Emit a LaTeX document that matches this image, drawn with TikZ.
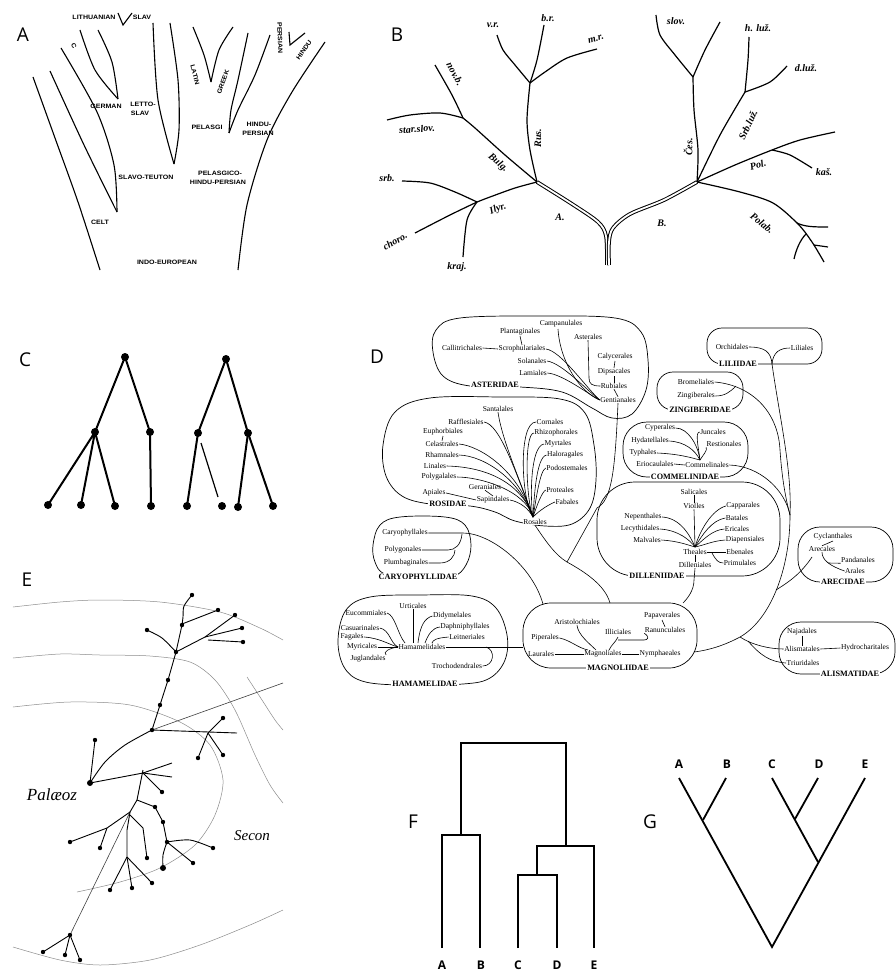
\documentclass[tikz,border=0pt]{standalone}
\usepackage{fontspec}
\setmainfont{Liberation Serif}
\newfontfamily\panelfont{Open Sans}
\newfontfamily\capfont{Liberation Sans}
\tikzset{
 plab/.style={font=\panelfont\fontsize{19}{19}\selectfont, inner sep=0pt},
 alab/.style={font=\capfont\bfseries\fontsize{6.3}{6.5}\selectfont, inner sep=0.3pt, xscale=1.12},
 blab/.style={font=\bfseries\itshape\fontsize{10}{10}\selectfont, inner sep=0.3pt},
 dl/.style={font=\fontsize{7.5}{7.5}\selectfont, inner sep=0.4pt},
 dsub/.style={font=\bfseries\fontsize{8.2}{8.2}\selectfont, inner sep=1pt, fill=white},
 blob/.style={line width=0.7pt},
 dline/.style={line width=0.6pt},
 aline/.style={line width=1.1pt},
 bline/.style={line width=1.2pt},
 eline/.style={line width=0.9pt},
 earc/.style={black!45, line width=0.5pt},
 fline/.style={line width=2.4pt, line join=miter},
 gline/.style={line width=1.8pt},
 tiplab/.style={font=\panelfont\bfseries\fontsize{12}{12}\selectfont, inner sep=0pt},
 hand/.style={font=\itshape\fontsize{17}{17}\selectfont, inner sep=0pt},
}
\begin{document}
\begin{tikzpicture}[x=1pt,y=-1pt]
\path[use as bounding box, fill=white] (0,0) rectangle (896,971);

% ---------- panel letters
\node[plab] (labA) at (23,35) {A};
\node[plab] (labB) at (397,35) {B};
\node[plab] (labC) at (25,360) {C};
\node[plab] (labD) at (377,357) {D};
\node[plab] (labE) at (27,580) {E};
\node[plab] (labF) at (413,822) {F};
\node[plab] (labG) at (650,822) {G};

% ---------- panel A
\draw[aline] plot[smooth] coordinates {(33,77) (55,138) (78,202) (100,270)};
\draw[aline] plot[smooth] coordinates {(50,71) (84,145) (117,212)};
\draw[aline] plot[smooth] coordinates {(61,48) (97,112) (114,165) (117,212)};
\draw[aline] plot[smooth] coordinates {(80,30) (95,70) (118,99)};
\draw[aline] plot[smooth] coordinates {(98,30) (112,62) (118,99)};
\draw[aline] plot[smooth] coordinates {(153,23) (158,100) (174,164)};
\draw[aline] plot[smooth] coordinates {(170,23) (178,80) (179,130) (174,164)};
\draw[aline] plot[smooth] coordinates {(193,27) (204,55) (211,82)};
\draw[aline] plot[smooth] coordinates {(233,27) (219,50) (211,82)};
\draw[aline] plot[smooth] coordinates {(248,33) (238,80) (231,110) (229,133)};
\draw[aline] plot[smooth] coordinates {(270,35) (255,75) (238,110) (229,133)};
\draw[aline] (289,32) -- (290,45) -- (305,33);
\draw[aline] (118,13) -- (123,25) -- (132,13);
\draw[aline] plot[smooth] coordinates {(325,42) (292,92) (267,140) (247,205) (238,270)};
\node[alab] (aLit) at (94,17) {LITHUANIAN};
\node[alab] (aSlav) at (142,17) {SLAV};
\node[rotate=-65, alab] (aC) at (74,46) {C};
\node[alab] (aGer) at (106,106) {GERMAN};
\node[alab] (aLet) at (143,104) {LETTO-};
\node[alab] (aLet2) at (140,113) {SLAV};
\node[rotate=-75, alab] (aLat) at (195,75) {LATIN};
\node[rotate=70, alab] (aGre) at (223,82) {GREEK};
\node[alab] (aPel) at (207,127) {PELASGI};
\node[alab] (aHP) at (259,124) {HINDU-};
\node[alab] (aHP2) at (258,133) {PERSIAN};
\node[rotate=-88, alab] (aPer) at (280,38) {PERSIAN};
\node[rotate=55, alab] (aHin) at (304,50) {HINDU};
\node[alab] (aST) at (146,177) {SLAVO-TEUTON};
\node[alab] (aPHP) at (220,173) {PELASGICO-};
\node[alab] (aPHP2) at (218,182) {HINDU-PERSIAN};
\node[alab] (aCelt) at (100,222) {CELT};
\node[alab] (aIE) at (167,262) {INDO-EUROPEAN};

% ---------- panel B
\draw[line width=1pt, double distance=1.8pt] plot[smooth] coordinates {(537,182) (572,204) (598,222) (606,236) (607,265)};
\draw[line width=1pt, double distance=1.8pt] plot[smooth] coordinates {(697,182) (664,200) (630,214) (613,228) (609,242) (609,265)};
\draw[bline] plot[smooth] coordinates {(537,182) (530,150) (527,120) (530,83)};
\draw[bline] plot[smooth] coordinates {(530,83) (515,65) (503,50) (497,35)};
\draw[bline] plot[smooth] coordinates {(530,83) (537,60) (544,25)};
\draw[bline] plot[smooth] coordinates {(530,83) (545,72) (567,58) (597,49)};
\draw[bline] plot[smooth] coordinates {(537,182) (505,155) (475,128) (463,118)};
\draw[bline] plot[smooth] coordinates {(463,118) (452,95) (435,65)};
\draw[bline] plot[smooth] coordinates {(463,118) (440,113) (410,115) (387,120)};
\draw[bline] plot[smooth] coordinates {(537,182) (515,188) (490,197) (477,202)};
\draw[bline] plot[smooth] coordinates {(477,202) (455,192) (430,183) (402,181)};
\draw[bline] plot[smooth] coordinates {(477,202) (450,215) (415,233)};
\draw[bline] plot[smooth] coordinates {(477,202) (467,220) (463,257)};
\draw[bline] plot[smooth] coordinates {(697,182) (698,150) (694,110) (693,77)};
\draw[bline] plot[smooth] coordinates {(693,77) (675,55) (660,35) (656,15)};
\draw[bline] plot[smooth] coordinates {(693,77) (705,50) (720,22)};
\draw[bline] plot[smooth] coordinates {(697,182) (720,135) (745,92)};
\draw[bline] plot[smooth] coordinates {(745,92) (748,60) (749,37)};
\draw[bline] plot[smooth] coordinates {(745,92) (770,82) (787,66)};
\draw[bline] plot[smooth] coordinates {(697,182) (735,165) (772,150) (800,140) (835,132)};
\draw[bline] plot[smooth] coordinates {(772,150) (790,155) (812,168)};
\draw[bline] plot[smooth] coordinates {(697,182) (740,192) (773,203) (798,224) (812,242) (824,262)};
\draw[bline] (797,223) .. controls (805,227) and (815,227) .. (828,227);
\draw[bline] (806,234) .. controls (800,240) and (796,250) .. (794,259);
\draw[bline] (814,245) -- (828,247);
\node[blab] (bvr) at (493,25) {v.r.};
\node[blab] (bbr) at (548,18) {b.r.};
\node[rotate=15, blab] (bmr) at (596,39) {m.r.};
\node[rotate=-62, blab] (bnov) at (455,74) {nov.b.};
\node[rotate=5, blab] (bstar) at (417,129) {star.slov.};
\node[rotate=90, blab] (brus) at (538,138) {Rus.};
\node[rotate=-40, blab] (bbul) at (498,163) {Bulg.};
\node[blab] (bsrb) at (387,178) {srb.};
\node[rotate=20, blab] (bily) at (498,209) {Ilyr.};
\node[rotate=30, blab] (bcho) at (395,241) {choro.};
\node[blab] (bkra) at (457,267) {kraj.};
\node[blab] (bA) at (560,217) {A.};
\node[blab] (bslov) at (676,21) {slov.};
\node[blab] (bhl) at (758,28) {h. luž.};
\node[blab] (bdl) at (806,68) {d.luž.};
\node[rotate=65, blab] (bsl) at (748,125) {Srb.luž.};
\node[rotate=90, blab] (bces) at (688,147) {Čes.};
\node[rotate=15, blab] (bpol) at (758,165) {Pol.};
\node[blab] (bkas) at (824,172) {kaš.};
\node[rotate=-38, blab] (bpolab) at (762,223) {Polab.};
\node[blab] (bB) at (662,223) {B.};

% ---------- panel C
\foreach \p/\q in {125/357,95/432,150/432,48/505,81/505,115/506,151/506,226/359,198/433,248/433,187/506,222/506,238/507,273/506}
  \fill (\p,\q) circle[radius=4pt];
\draw[line width=2pt] (95,432) -- (125,357) -- (150,432) -- (151,506);
\draw[line width=2pt] (48,505) -- (95,432) -- (81,505);
\draw[line width=2pt] (95,432) -- (115,506);
\draw[line width=2pt] (198,433) -- (226,359) -- (248,433) -- (273,506);
\draw[line width=2pt] (198,433) -- (187,506);
\draw[line width=1.2pt] (201,443) -- (218,497);
\draw[line width=2pt] (248,433) -- (238,507);

% ---------- panel D : blobs
\draw[blob] plot[smooth cycle, tension=0.6] coordinates {(436,330) (460,318) (540,316) (615,318) (641,332) (648,360) (646,390) (632,414) (612,418) (592,408) (562,392) (520,387) (470,386) (443,376) (433,352)};
\draw[blob] plot[smooth cycle, tension=0.6] coordinates {(383,445) (395,412) (430,398) (500,397) (560,399) (585,413) (594,445) (596,480) (590,508) (572,524) (545,526) (515,521) (495,512) (470,506) (430,504) (402,496) (386,476)};
\draw[blob] plot[smooth cycle, tension=0.6] coordinates {(373,545) (380,525) (400,517) (445,517) (465,525) (471,545) (466,565) (452,577) (418,579) (385,574) (375,562)};
\draw[blob] plot[smooth cycle, tension=0.6] coordinates {(338,640) (346,610) (370,597) (420,595) (472,596) (496,608) (507,635) (505,660) (490,678) (463,684) (400,685) (362,681) (344,667)};
\draw[blob, rounded corners=28pt] (523,603) rectangle (697,668);
\draw[blob, rounded corners=15pt] (707,328) rectangle (822,364);
\draw[blob, rounded corners=16pt] (657,372) rectangle (743,410);
\draw[blob, rounded corners=24pt] (623,422) rectangle (748,477);
\draw[blob, rounded corners=38pt] (597,482) rectangle (780,576);
\draw[blob, rounded corners=22pt] (798,527) rectangle (893,582);
\draw[blob, rounded corners=22pt] (779,622) rectangle (895,674);

% Asteridae
\node[dl] (camp) at (561,324) {Campanulales};
\node[dl] (plant) at (520,332) {Plantaginales};
\node[dl] (aster) at (588,337) {Asterales};
\node[dl] (callit) at (462,348) {Callitrichales};
\node[dl] (scroph) at (522,349) {Scrophulariales};
\node[dl] (calyc) at (615,357) {Calycerales};
\node[dl] (solan) at (532,361) {Solanales};
\node[dl] (dips) at (614,372) {Dipsacales};
\node[dl] (lami) at (533,373) {Lamiales};
\node[dl] (rubi) at (614,386) {Rubiales};
\node[dl] (gent) at (618,400) {Gentianales};
\node[dsub] (astsub) at (495,385) {ASTERIDAE};
\draw[dline] (callit.east) -- (scroph.west);
\draw[dline] (plant.south) -- (scroph.north);
\draw[dline] (scroph.east) .. controls +(15,2) and +(-15,-14) .. (gent.west);
\draw[dline] (solan.east) .. controls +(15,2) and +(-12,-9) .. (gent.west);
\draw[dline] (lami.east) .. controls +(15,1) and +(-10,-5) .. (gent.west);
\draw[dline] (558,329) .. controls (560,362) and (580,392) .. (gent.west);
\draw[dline] (aster.south) -- (589,378) .. controls (589,384) and (592,386) .. (rubi.west);
\draw[dline] (calyc.south) -- (dips.north);
\draw[dline] (dips.south) -- (rubi.north);
\draw[dline] (rubi.south) -- (gent.north);

% Rosidae
\node[dl] (sant) at (498,409) {Santalales};
\node[dl] (raff) at (466,422) {Rafflesiales};
\node[dl] (corn) at (550,422) {Cornales};
\node[dl] (euph) at (443,432) {Euphorbiales};
\node[dl] (rhiz) at (556,433) {Rhizophorales};
\node[dl] (cela) at (442,444) {Celastrales};
\node[dl] (myrt) at (558,444) {Myrtales};
\node[dl] (rham) at (442,455) {Rhamnales};
\node[dl] (halo) at (565,455) {Haloragales};
\node[dl] (lina) at (435,466) {Linales};
\node[dl] (podo) at (567,468) {Podostemales};
\node[dl] (polyg) at (439,477) {Polygalales};
\node[dl] (gera) at (485,487) {Geraniales};
\node[dl] (prot) at (560,490) {Proteales};
\node[dl] (apia) at (434,493) {Apiales};
\node[dl] (sapi) at (493,500) {Sapindales};
\node[dl] (faba) at (567,502) {Fabales};
\node[dsub] (rossub) at (448,504) {ROSIDAE};
\node[dl, fill=white] (rosa) at (535,522) {Rosales};
\coordinate (rhub) at (533,517);
\draw[dline] (raff.east) .. controls (500,425) and (515,470) .. (rhub);
\draw[dline] (sant.south) .. controls (502,440) and (520,480) .. (rhub);
\draw[dline] (cela.east) .. controls (480,446) and (518,470) .. (rhub);
\draw[dline] (rham.east) .. controls (485,456) and (520,480) .. (rhub);
\draw[dline] (lina.east) .. controls (490,467) and (522,485) .. (rhub);
\draw[dline] (polyg.east) .. controls (480,477) and (525,490) .. (rhub);
\draw[dline] (euph.south) -- (cela.north);
\draw[dline] (gera.south) -- (sapi.north);
\draw[dline] (apia.east) -- (sapi.west);
\draw[dline] (sapi.east) .. controls (520,502) and (528,508) .. (rhub);
\draw[dline] (corn.west) .. controls (518,422) and (521,500) .. (rhub);
\draw[dline] (rhiz.west) .. controls (524,434) and (526,500) .. (rhub);
\draw[dline] (myrt.west) .. controls (530,446) and (530,500) .. (rhub);
\draw[dline] (halo.west) .. controls (536,457) and (534,500) .. (rhub);
\draw[dline] (podo.west) .. controls (540,470) and (536,500) .. (rhub);
\draw[dline] (prot.west) .. controls (542,492) and (537,505) .. (rhub);
\draw[dline] (faba.west) .. controls (548,505) and (540,510) .. (rhub);

% Caryophyllidae
\node[dl] (caryo) at (405,533) {Caryophyllales};
\node[dl] (polygo) at (403,550) {Polygonales};
\node[dl] (plumb) at (406,563) {Plumbaginales};
\node[dsub] (carsub) at (418,577) {CARYOPHYLLIDAE};
\draw[dline] (caryo.east) -- (463,533) .. controls (490,533) and (532,565) .. (543,604);
\draw[dline] (polygo.east) -- (448,550) .. controls (455,550) and (461,545) .. (462,534);
\draw[dline] (plumb.east) -- (440,563) .. controls (450,563) and (455,556) .. (455,550);

% Hamamelidae
\node[dl] (eucom) at (366,613) {Eucommiales};
\node[dl] (urti) at (413,606) {Urticales};
\node[dl] (didy) at (452,616) {Didymelales};
\node[dl] (daph) at (465,627) {Daphniphyllales};
\node[dl] (casu) at (360,628) {Casuarinales};
\node[dl] (leit) at (467,637) {Leitneriales};
\node[dl] (faga) at (352,637) {Fagales};
\node[dl] (hama) at (422,647) {Hamamelidales};
\node[dl] (myri) at (362,647) {Myricales};
\node[dl] (jugl) at (368,659) {Juglandales};
\node[dl] (troch) at (457,666) {Trochodendrales};
\node[dsub] (hamsub) at (425,684) {HAMAMELIDAE};
\draw[dline] (eucom.east) .. controls (395,615) and (398,635) .. (405,643);
\draw[dline] (urti.south) -- (413,643);
\draw[dline] (didy.west) .. controls (425,618) and (420,625) .. (418,643);
\draw[dline] (daph.west) .. controls (432,628) and (428,635) .. (425,643);
\draw[dline] (leit.west) .. controls (436,638) and (433,640) .. (432,643);
\draw[dline] (casu.east) .. controls (390,630) and (390,643) .. (hama.west);
\draw[dline] (faga.east) .. controls (380,638) and (390,645) .. (hama.west);
\draw[dline] (myri.east) -- (hama.west);
\draw[dline] (jugl.north east) .. controls (382,652) and (390,648) .. (hama.west);
\draw[dline] (troch.east) .. controls (494,666) and (496,650) .. (486,647);
\coordinate (magW) at (523,647);
\draw[dline] (hama.east) -- (magW);

% Magnoliidae
\node[dl] (aris) at (577,622) {Aristolochiales};
\node[dl] (illi) at (618,632) {Illiciales};
\node[dl] (pipe) at (545,638) {Piperales};
\node[dl] (papa) at (662,616) {Papaverales};
\node[dl] (ranu) at (665,630) {Ranunculales};
\node[dl] (laur) at (541,654) {Laurales};
\node[dl] (magn) at (603,654) {Magnoliales};
\node[dl] (nymp) at (660,654) {Nymphaeales};
\node[dsub] (magsub) at (618,668) {MAGNOLIIDAE};
\draw[dline] (laur.east) -- (magn.west);
\draw[dline] (magn.east) -- (nymp.west);
\draw[dline] (pipe.east) .. controls (570,640) and (578,648) .. (588,650);
\draw[dline] (aris.south) .. controls (578,635) and (590,644) .. (596,650);
\draw[dline] (609,650) .. controls (612,644) and (615,643) .. (618,637);
\draw[dline] (618,640) -- (644,640) .. controls (648,640) and (650,637) .. (ranu.south west);
\draw[dline] (papa.south) -- (ranu.north);

% Liliidae
\node[dl] (orch) at (732,347) {Orchidales};
\node[dl] (lili) at (802,348) {Liliales};
\node[dsub] (lilsub) at (738,364) {LILIIDAE};
\coordinate (lilhub) at (772,364);
\draw[dline] (orch.east) .. controls (765,347) and (771,352) .. (lilhub);
\draw[dline] (lili.west) .. controls (780,348) and (773,352) .. (lilhub);

% Zingiberidae
\node[dl] (brom) at (696,382) {Bromeliales};
\node[dl] (zing) at (696,396) {Zingiberales};
\node[dsub] (zinsub) at (700,410) {ZINGIBERIDAE};

% Commelinidae
\node[dl] (cype) at (660,428) {Cyperales};
\node[dl] (junc) at (713,432) {Juncales};
\node[dl] (hyda) at (650,441) {Hydatellales};
\node[dl] (rest) at (724,444) {Restionales};
\node[dl] (typh) at (643,453) {Typhales};
\node[dl] (erio) at (655,464) {Eriocaulales};
\node[dl] (comm) at (707,465) {Commelinales};
\node[dsub] (comsub) at (685,477) {COMMELINIDAE};
\coordinate (chub) at (700,460);
\draw[dline] (cype.east) .. controls (688,428) and (698,445) .. (chub);
\draw[dline] (junc.west) .. controls (695,432) and (698,445) .. (chub);
\draw[dline] (hyda.east) .. controls (685,442) and (695,450) .. (chub);
\draw[dline] (rest.south west) .. controls (708,450) and (703,455) .. (chub);
\draw[dline] (typh.east) .. controls (680,454) and (692,458) .. (chub);
\draw[dline] (erio.east) -- (comm.west);

% Dilleniidae
\node[dl] (sali) at (694,492) {Salicales};
\node[dl] (viol) at (694,506) {Violles};
\node[dl] (capp) at (743,506) {Capparales};
\node[dl] (nepe) at (643,517) {Nepenthales};
\node[dl] (bata) at (737,518) {Batales};
\node[dl] (lecy) at (640,529) {Lecythidales};
\node[dl] (eric) at (737,529) {Ericales};
\node[dl] (malv) at (647,540) {Malvales};
\node[dl] (diap) at (745,540) {Diapensiales};
\node[dl] (thea) at (695,552) {Theales};
\node[dl] (eben) at (740,552) {Ebenales};
\node[dl] (dill) at (695,565) {Dilleniales};
\node[dl] (prim) at (740,563) {Primulales};
\node[dsub] (dilsub) at (657,576) {DILLENIIDAE};
\coordinate (dhub) at (695,547);
\draw[dline] (sali.south) -- (viol.north);
\draw[dline] (viol.south) -- (dhub);
\draw[dline] (capp.west) .. controls (712,510) and (700,530) .. (dhub);
\draw[dline] (bata.west) .. controls (712,520) and (702,535) .. (dhub);
\draw[dline] (eric.west) .. controls (712,530) and (703,540) .. (dhub);
\draw[dline] (diap.west) .. controls (712,541) and (705,545) .. (dhub);
\draw[dline] (nepe.east) .. controls (680,518) and (690,535) .. (dhub);
\draw[dline] (lecy.east) .. controls (678,530) and (690,540) .. (dhub);
\draw[dline] (malv.east) .. controls (678,541) and (688,545) .. (dhub);
\draw[dline] (thea.east) -- (eben.west);
\draw[dline] (712,553) .. controls (716,560) and (718,563) .. (prim.west);
\draw[dline] (thea.south) -- (dill.north);
\draw[dline] (dill.south) -- (694,580) .. controls (694,590) and (688,598) .. (683,603);

% Arecidae
\node[dl] (cycl) at (833,537) {Cyclanthales};
\node[dl] (arec) at (822,549) {Arecales};
\node[dl] (pand) at (858,560) {Pandanales};
\node[dl] (aral) at (855,571) {Arales};
\node[dsub] (arcsub) at (843,582) {ARECIDAE};
\draw[dline] (cycl.south) -- (arec.north);
\draw[dline] (arec.south) .. controls (822,560) and (830,566) .. (aral.west);
\draw[dline] (828,563) -- (pand.south west);

% Alismatidae
\node[dl] (naja) at (802,632) {Najadales};
\node[dl] (alism) at (802,649) {Alismatales};
\node[dl] (hydro) at (865,648) {Hydrocharitales};
\node[dl] (triu) at (803,663) {Triuridales};
\node[dsub] (alisub) at (850,674) {ALISMATIDAE};
\draw[dline] (naja.south) -- (alism.north);
\draw[dline] (alism.east) -- (hydro.west);

% lineage lines
\coordinate (mono) at (790,515);
\draw[dline] (lilhub) .. controls (780,420) and (792,470) .. (mono);
\draw[dline] (brom.east) .. controls (750,385) and (778,410) .. (780,450) .. controls (782,480) and (786,500) .. (mono);
\draw[dline] (zing.east) .. controls (725,396) and (730,392) .. (736,386);
\draw[dline] (comm.east) .. controls (760,466) and (785,490) .. (mono);
\draw[dline] (mono) .. controls (790,570) and (770,620) .. (740,637) .. controls (725,645) and (710,650) .. (694,652);
\draw[dline] (812,557) .. controls (800,575) and (787,583) .. (776,590);
\draw[dline] (740,637) .. controls (752,645) and (770,649) .. (alism.west);
\draw[dline] (748,641) .. controls (760,655) and (770,662) .. (triu.west);
\draw[dline] (gent.south) .. controls (615,470) and (612,500) .. (597,508) -- (567,562);
\draw[dline] (rosa.south) .. controls (545,540) and (555,555) .. (567,562) .. controls (585,572) and (605,585) .. (610,603);

% ---------- panel E
\draw[earc] plot[smooth] coordinates {(13,607) (60,602) (100,600) (160,602) (220,612) (260,628) (283,640)};
\draw[earc] plot[smooth] coordinates {(13,658) (60,654) (100,655) (150,656) (190,662) (215,680) (235,710) (255,755) (270,785) (283,803)};
\draw[earc] plot[smooth] coordinates {(13,707) (70,702) (130,705) (180,722) (210,745) (223,780) (215,815) (195,845) (160,868) (120,882) (77,892)};
\draw[earc] plot[smooth] coordinates {(13,947) (60,960) (100,965) (150,960) (200,945) (250,925) (283,910)};
\draw[earc] plot[smooth] coordinates {(247,677) (262,700) (275,720) (283,730)};
\draw[black!75, line width=0.6pt] (152,730) -- (283,683);
\draw[black!75, line width=0.6pt] (130,812) -- (70,935);
\draw[eline] plot[smooth] coordinates {(192,595) (184,606) (183,617) (182,625)};
\draw[eline] (182,625) -- (176,652);
\draw[eline] (182,624) -- (218,610);
\draw[eline] plot[smooth] coordinates {(147,630) (162,638) (176,652)};
\draw[eline] (176,652) -- (205,637) -- (235,615);
\draw[eline] (205,637) -- (242,628);
\draw[eline] (208,640) -- (243,642);
\draw[eline] (176,652) -- (168,680) -- (160,705) -- (152,730);
\draw[eline] (152,730) -- (237,733);
\draw[eline] (208,733) -- (223,718);
\draw[eline] (208,733) -- (223,755);
\draw[eline] (208,733) -- (198,758);
\draw[eline] plot[smooth] coordinates {(152,730) (125,745) (105,762) (90,783)};
\draw[eline] (90,783) -- (95,740);
\draw[eline] (90,783) -- (143,773);
\draw[eline] (143,773) -- (172,763);
\draw[eline] (143,773) -- (172,777);
\draw[eline] (143,773) -- (162,792);
\draw[eline] (143,770) -- (137,800) -- (130,812);
\draw[eline] (137,800) -- (155,807) -- (163,822) -- (167,842);
\draw[eline] plot[smooth] coordinates {(167,842) (190,840) (213,848)};
\draw[eline] (167,842) -- (193,863);
\draw[eline] plot[smooth] coordinates {(167,842) (163,855) (163,868)};
\draw[eline] (130,812) -- (107,828) -- (70,842);
\draw[eline] (107,828) -- (100,848);
\draw[eline] (130,812) -- (127,830) -- (127,857);
\draw[eline] (130,815) -- (143,828) -- (147,858);
\draw[eline] (127,857) -- (110,890);
\draw[eline] (127,857) -- (132,888);
\draw[eline] (127,857) -- (152,883);
\draw[eline] (70,935) -- (43,952);
\draw[eline] (70,935) -- (65,955);
\draw[eline] (70,935) -- (80,960);
\foreach \p/\q in {192/595,182/625,176/652,218/610,147/630,235/615,242/628,243/642,168/680,160/705,152/730,223/718,223/755,198/758,95/740,162/792,155/807,163/822,167/842,213/848,193/863,70/842,100/848,147/858,110/890,132/888,152/883,70/935,43/952,65/955,80/960}
  \fill (\p,\q) circle[radius=2.2pt];
\fill (90,783) circle[radius=3pt];
\fill (163,868) circle[radius=3pt];
\node[hand] (palaeo) at (52,795) {Palæoz};
\node[hand, font=\itshape\fontsize{15}{15}\selectfont] (secon) at (252,836) {Secon};

% ---------- panel F
\node[tiplab] (fA) at (442,965) {A};
\node[tiplab] (fB) at (481,965) {B};
\node[tiplab] (fC) at (518,965) {C};
\node[tiplab] (fD) at (557,965) {D};
\node[tiplab] (fE) at (594,965) {E};
\draw[fline] (442,948) |- (480,835) -- (480,948);
\draw[fline] (461,835) |- (566,743) -- (566,846);
\draw[fline] (518,948) |- (557,875) -- (557,948);
\draw[fline] (537,875) |- (594,846) -- (594,948);

% ---------- panel G
\node[tiplab] (gA) at (679,764) {A};
\node[tiplab] (gB) at (727,764) {B};
\node[tiplab] (gC) at (772,764) {C};
\node[tiplab] (gD) at (819,764) {D};
\node[tiplab] (gE) at (865,764) {E};
\coordinate (groot) at (772,947);
\draw[gline] (679,778) -- (groot) -- (865,778);
\draw[gline] (703,820) -- (726,778);
\draw[gline] (772,778) -- (818,862);
\draw[gline] (818,778) -- (795,819);
\end{tikzpicture}
\end{document}
